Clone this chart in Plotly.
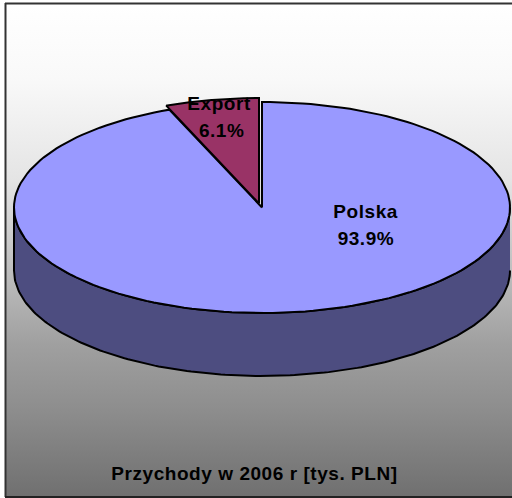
import numpy as np
import plotly.graph_objects as go

categories = ["Polska", "Export"]
shares = [93.9, 6.1]
title_text = "Przychody w 2006 r [tys. PLN]"

W, H = 512, 498
CX, CY, RX, RY, DEPTH = 262, 207.5, 248, 105.5, 63
EXPLODE = {"Polska": (0, 0), "Export": (-3, -4)}
COLORS = {"Polska": "#9999FF", "Export": "#993366"}
WALL = "#4D4D80"
LABEL_POS = {"Polska": (366, 211, 366, 238), "Export": (219, 103, 221, 130)}


def rim(a0, a1, n=180):
    t = np.radians(np.linspace(a0, a1, n))
    return RX * np.sin(t), -RY * np.cos(t)


fig = go.Figure()

# background panel with vertical gradient
fig.add_trace(go.Scatter(
    x=[6, W, W, 6, 6], y=[4, 4, 496, 496, 4], mode="lines", line=dict(width=0),
    fill="toself", fillgradient=dict(type="vertical", colorscale=[
        [0.0, "rgb(112,112,112)"], [0.18, "rgb(142,142,142)"], [0.31, "rgb(160,160,160)"],
        [0.64, "rgb(228,228,228)"], [0.85, "rgb(249,249,249)"], [1.0, "rgb(255,255,255)"]]),
    hoverinfo="skip", showlegend=False))

# side wall (front half of the rim, extruded)
wx, wy = rim(90, 270)
fig.add_trace(go.Scatter(
    x=np.r_[CX + wx, CX + wx[::-1]], y=np.r_[CY + wy, CY + wy[::-1] + DEPTH],
    mode="lines", fill="toself", fillcolor=WALL, line=dict(color="black", width=2),
    hoverinfo="skip", showlegend=False))

# top slices, angles derived from the shares
total = sum(shares)
start = 0.0
for name, val in zip(categories, shares):
    sweep = 360 * val / total
    x, y = rim(start, start + sweep)
    dx, dy = EXPLODE[name]
    fig.add_trace(go.Scatter(
        x=np.r_[CX + dx, CX + dx + x, CX + dx], y=np.r_[CY + dy, CY + dy + y, CY + dy],
        mode="lines", fill="toself", fillcolor=COLORS[name],
        line=dict(color="black", width=2), name=name,
        hoverinfo="skip", showlegend=False))
    start += sweep

# labels (name and percentage on separate, widely spaced lines)
for name, val in zip(categories, shares):
    lx1, ly1, lx2, ly2 = LABEL_POS[name]
    for text, lx, ly in ((name, lx1, ly1), (f"{val:.1f}%", lx2, ly2)):
        fig.add_annotation(x=lx, y=ly, xref="x", yref="y", text=text, showarrow=False,
                           font=dict(family="Liberation Sans", size=19, color="#000000", weight="bold"))

fig.update_layout(
    width=W, height=H, margin=dict(l=0, r=0, t=0, b=0),
    paper_bgcolor="white", plot_bgcolor="rgba(0,0,0,0)",
    xaxis=dict(range=[0, W], visible=False, fixedrange=True),
    yaxis=dict(range=[H, 0], visible=False, fixedrange=True),
    title=dict(text=f"<b>{title_text}</b>", x=254.5 / W, xanchor="center", y=1 - 473 / H, yanchor="middle",
               font=dict(family="Liberation Sans", size=19, color="#000000")),
    shapes=[
        dict(type="line", x0=5.5, x1=5.5, y0=3, y1=497, xref="x", yref="y", line=dict(color="#333333", width=2)),
        dict(type="line", x0=5, x1=W, y0=3.5, y1=3.5, xref="x", yref="y", line=dict(color="#333333", width=2)),
        dict(type="line", x0=5, x1=W, y0=497, y1=497, xref="x", yref="y", line=dict(color="#222222", width=2)),
    ],
)

fig.write_html("out.html", config={"displayModeBar": False},
               post_script="document.body.style.margin='0';"
                           "document.querySelectorAll('.annotation-text,.gtitle')"
                           ".forEach(function(t){t.style.letterSpacing='0.55px';});")
